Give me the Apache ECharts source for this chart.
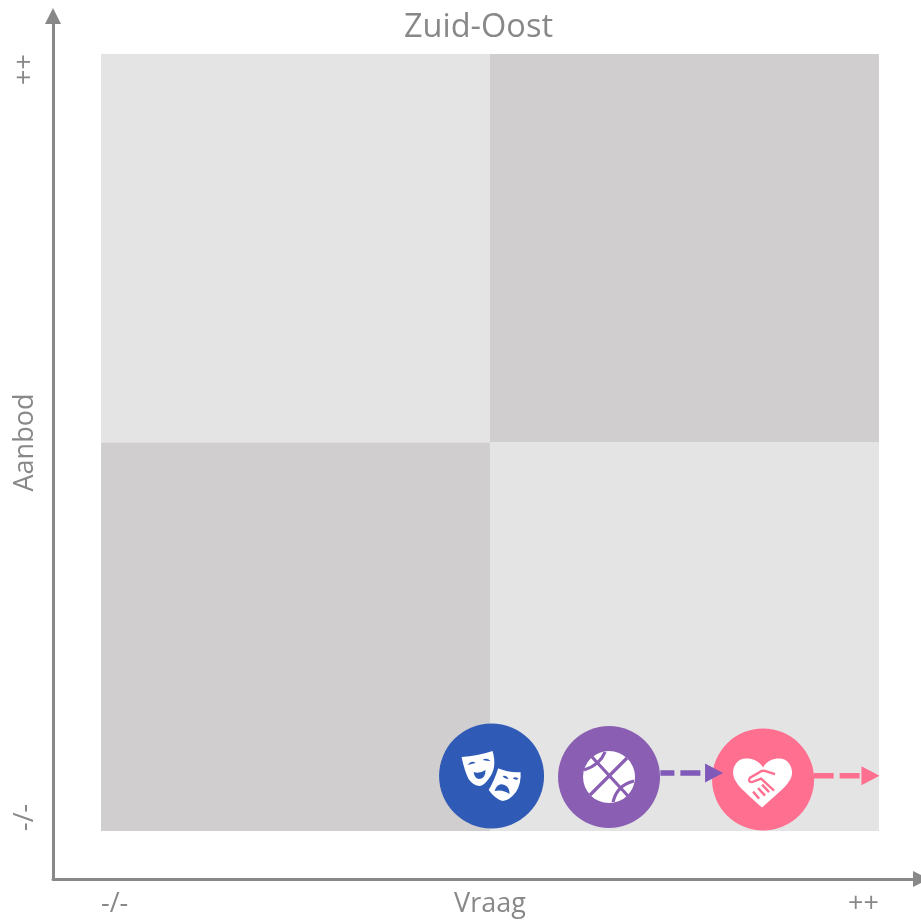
<!DOCTYPE html>
<html>
<head>
<meta charset="utf-8">
<title>Zuid-Oost</title>
<style>
  html, body { margin: 0; padding: 0; background: #fff; }
  #chart { width: 921px; height: 923px; }
</style>
<script src="https://cdn.jsdelivr.net/npm/echarts@6/dist/echarts.min.js"></script>
</head>
<body>
<div id="chart"></div>
<script>
const xTicks = ["-/-", "++"];
const yTicks = ["-/-", "++"];

// quadrants: x from, x to, y from, y to, tone
const quadXFrom = [0, 50, 0, 50];
const quadXTo = [50, 100, 50, 100];
const quadYFrom = [50, 50, 0, 0];
const quadYTo = [100, 100, 50, 50];
const quadDark = [0, 1, 1, 0];

const bubbleNames = ["Cultuur", "Sport", "Welzijn"];
const bubbleX = [50.2, 65.3, 85.1];
const bubbleY = [7.08, 6.95, 6.63];
const iconY = [7.08, 6.95, 7.0];
const arrowFromX = [null, 71.9, 91.6];
const arrowToX = [null, 78.8, 98.9];
const arrowY = [null, 7.45, 7.1];

const colors = ["#2f5bb7", "#8a5fb3", "#ff6f90"];
const arrowColors = [null, "#7f5ab8", "#ff6f90"];
const bubbleSizes = [105, 102, 102];
const grey = "#888888";
const font = "Open Sans";

// icon shapes, px offsets from the bubble centre
const maskHappy = "M-30,-19 Q-14,-20 1,-25 Q6,-8 -3,3 Q-8,10 -12,10 Q-18,10 -23,3 Q-27,-5 -30,-19 Z";
const maskSad = "M6,-9 Q18,-4 30,-5 Q31,8 25,17 Q18,26 11,26 Q3,24 -4,14 Q2,4 6,-9 Z";
const maskFeatures = "M-24,-11 Q-20,-16 -16,-13 Q-20,-12 -24,-11 Z M-9,-16 Q-5,-19 -1,-15 Q-5,-15 -9,-16 Z M-18,-4 Q-12,-2 -6,-6 Q-6,3 -13,3 Q-17,2 -18,-4 Z M11,0 Q15,-1 17,3 Q13,3 11,0 Z M21,2 Q25,0 27,3 Q24,5 21,2 Z M3,15 Q6,6 13,9 Q18,11 18,18 Q11,13 3,15 Z";
const ball = "M-26,0 A26,26 0 1,1 26,0 A26,26 0 1,1 -26,0 Z";
const ballLines = "M18,-19 L-19,18 M-17,-20 L19,19 M-4,-25 Q-9,-12 -25,-7 M25,4 Q8,8 4,25";
const heart = "M0,-9 C-5,-17 -12,-18 -17,-18 C-26,-18 -30,-10 -30,-4 C-30,6 -20,14 -1,31 C18,14 29,6 29,-4 C29,-10 25,-18 16,-18 C10,-18 4,-16 0,-9 Z";
const shakeLines = "M12,-2.5 L4,-5 Q-1,-7 -4,-4 L-13,1 Q-16,5 -11,5.5 L-2,2 L11,14 M-10,15 L-4,22 M-5,11.5 L2,19 M-1,8 L6,15.5";

const iconParts = [
  [
    { d: maskHappy, fill: "#fff" },
    { d: maskSad, fill: "#fff", stroke: colors[0], width: 2 },
    { d: maskFeatures, fill: colors[0] }
  ],
  [
    { d: ball, fill: "#fff" },
    { d: ballLines, stroke: colors[1], width: 3.2 }
  ],
  [
    { d: heart, fill: "#fff" },
    { d: shakeLines, stroke: colors[2], width: 2.4 }
  ]
];

function renderQuad(params, api) {
  const a = api.coord([api.value(0), api.value(3)]);
  const b = api.coord([api.value(1), api.value(2)]);
  return {
    type: "rect",
    shape: { x: a[0], y: a[1], width: b[0] - a[0], height: b[1] - a[1] },
    style: { fill: api.value(4) ? "#d0cecf" : "#e4e4e4" }
  };
}

function renderIcon(params, api) {
  const c = api.coord([api.value(0), api.value(1)]);
  return {
    type: "group",
    x: c[0],
    y: c[1],
    children: iconParts[params.dataIndex].map(p => ({
      type: "path",
      shape: { pathData: p.d },
      style: { fill: p.fill || "none", stroke: p.stroke || null, lineWidth: p.width || 0 }
    }))
  };
}

function arrowSeries(i) {
  return {
    type: "line",
    xAxisIndex: 0,
    yAxisIndex: 0,
    clip: false,
    z: 4,
    silent: true,
    animation: false,
    lineStyle: { color: arrowColors[i], width: 5.5, type: [20, 6], dashOffset: i === 1 ? 6 : 0 },
    itemStyle: { color: arrowColors[i] },
    data: [
      { value: [arrowFromX[i], arrowY[i]], symbol: "none" },
      { value: [arrowToX[i], arrowY[i]], symbol: "triangle", symbolSize: [19, 18], symbolRotate: -90 }
    ]
  };
}

const chart = echarts.init(document.getElementById("chart"));
chart.setOption({
  animation: false,
  textStyle: { fontFamily: font },
  title: {
    text: "Zuid-Oost",
    left: 399,
    top: 6,
    textStyle: { color: grey, fontSize: 32.5, fontWeight: "normal", fontFamily: font }
  },
  grid: [
    { left: 101, right: 42, top: 54, bottom: 92, outerBoundsMode: "none" },
    { left: 53, right: 0, top: 16, bottom: 44, outerBoundsMode: "none" }
  ],
  xAxis: [
    {
      type: "value", gridIndex: 0, min: 0, max: 100, interval: 100,
      name: "Vraag", nameLocation: "middle", nameGap: 60, nameMoveOverlap: false,
      nameTextStyle: { color: grey, fontSize: 27, fontFamily: font },
      axisLine: { show: false }, axisTick: { show: false }, splitLine: { show: false },
      axisLabel: {
        color: grey, fontSize: 27, fontFamily: font, margin: 60,
        alignMinLabel: "left", alignMaxLabel: "right",
        formatter: v => xTicks[v === 0 ? 0 : 1]
      }
    },
    {
      type: "value", gridIndex: 1, min: 0, max: 1,
      axisLine: { show: true, onZero: false, symbol: ["none", "triangle"], symbolSize: [16, 16], lineStyle: { color: grey, width: 3 } },
      axisTick: { show: false }, splitLine: { show: false }, axisLabel: { show: false }
    }
  ],
  yAxis: [
    {
      type: "value", gridIndex: 0, min: 0, max: 100, interval: 100,
      name: "Aanbod", nameLocation: "middle", nameGap: 62, nameRotate: 90, nameMoveOverlap: false,
      nameTextStyle: { color: grey, fontSize: 27, fontFamily: font },
      axisLine: { show: false }, axisTick: { show: false }, splitLine: { show: false },
      axisLabel: {
        color: grey, fontSize: 27, fontFamily: font, margin: 62, rotate: 90,
        alignMinLabel: "left", alignMaxLabel: "right",
        formatter: v => yTicks[v === 0 ? 0 : 1]
      }
    },
    {
      type: "value", gridIndex: 1, min: 0, max: 1,
      axisLine: { show: true, onZero: false, symbol: ["none", "triangle"], symbolSize: [16, 16], lineStyle: { color: grey, width: 3 } },
      axisTick: { show: false }, splitLine: { show: false }, axisLabel: { show: false }
    }
  ],
  series: [
    {
      type: "custom",
      xAxisIndex: 0, yAxisIndex: 0, z: 1, silent: true,
      renderItem: renderQuad,
      encode: { x: [0, 1], y: [2, 3] },
      data: quadDark.map((d, i) => [quadXFrom[i], quadXTo[i], quadYFrom[i], quadYTo[i], d])
    },
    {
      type: "scatter",
      xAxisIndex: 0, yAxisIndex: 0, z: 2, clip: false, silent: true,
      symbol: "circle",
      data: bubbleNames.map((n, i) => ({
        name: n,
        value: [bubbleX[i], bubbleY[i]],
        symbolSize: bubbleSizes[i],
        itemStyle: { color: colors[i], opacity: 1 }
      }))
    },
    {
      type: "custom",
      xAxisIndex: 0, yAxisIndex: 0, z: 3, clip: false, silent: true,
      renderItem: renderIcon,
      encode: { x: 0, y: 1 },
      data: bubbleNames.map((n, i) => [bubbleX[i], iconY[i]])
    },
    arrowSeries(1),
    arrowSeries(2)
  ]
});
</script>
</body>
</html>
